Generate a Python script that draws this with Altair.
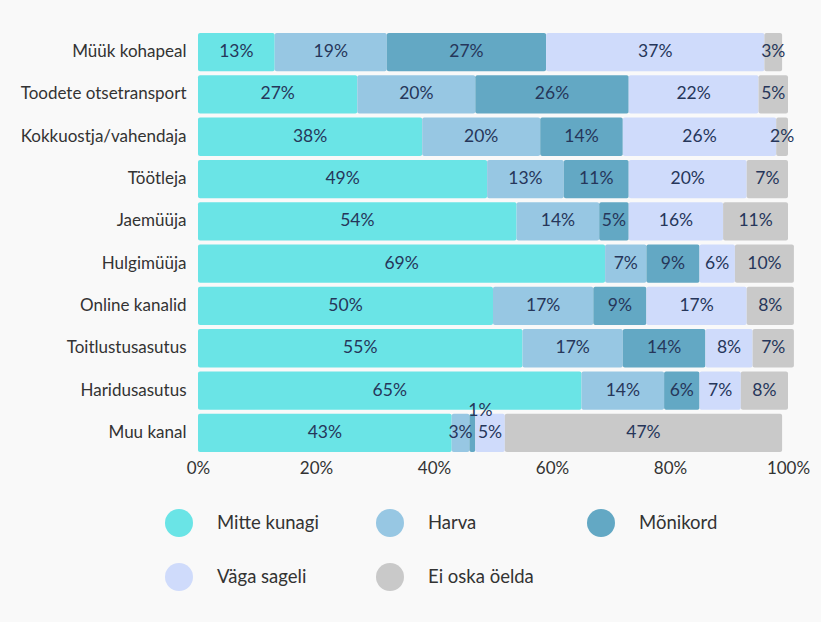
import altair as alt
import pandas as pd

categories = ["Müük kohapeal", "Toodete otsetransport", "Kokkuostja/vahendaja", "Töötleja",
              "Jaemüüja", "Hulgimüüja", "Online kanalid", "Toitlustusasutus",
              "Haridusasutus", "Muu kanal"]
series = ["Mitte kunagi", "Harva", "Mõnikord", "Väga sageli", "Ei oska öelda"]
mitte_kunagi = [13, 27, 38, 49, 54, 69, 50, 55, 65, 43]
harva = [19, 20, 20, 13, 14, 7, 17, 17, 14, 3]
monikord = [27, 26, 14, 11, 5, 9, 9, 14, 6, 1]
vaga_sageli = [37, 22, 26, 20, 16, 6, 17, 8, 7, 5]
ei_oska = [3, 5, 2, 7, 11, 10, 8, 7, 8, 47]
colors = ["#6ae4e6", "#97c7e3", "#63a8c4", "#cfdbfb", "#c9c9c9"]

rows = []
for s_i, (s, vals) in enumerate(zip(series, [mitte_kunagi, harva, monikord, vaga_sageli, ei_oska])):
    for c, v in zip(categories, vals):
        rows.append({"cat": c, "series": s, "order": s_i, "value": v})
df = pd.DataFrame(rows)

FONT = "Lato"
TXT = "#26365a"

base = alt.Chart(df).transform_stack(
    stack="value", groupby=["cat"], sort=[alt.SortField("order")], as_=["x0", "x1"]
).transform_calculate(
    mid="(datum.x0 + datum.x1) / 2", label="datum.value + '%'"
)

y_enc = alt.Y("cat:N", sort=categories, title=None,
              scale=alt.Scale(paddingInner=0.095, paddingOuter=0.047),
              axis=alt.Axis(domain=False, ticks=False, labelPadding=12, labelFontSize=17,
                            labelColor="#333333", labelFont=FONT, labelLimit=300))

bars = base.mark_bar(cornerRadius=2).encode(
    x=alt.X("x0:Q", title=None,
            scale=alt.Scale(domain=[0, 100], nice=False),
            axis=alt.Axis(values=[0, 20, 40, 60, 80, 100], labelExpr="datum.value + '%'",
                          domain=False, ticks=False, grid=False, labelPadding=6,
                          labelFontSize=17, labelColor="#333333", labelFont=FONT,
                          labelFlush=False)),
    x2="x1:Q",
    y=y_enc,
    color=alt.Color("series:N", scale=alt.Scale(domain=series, range=colors),
                    legend=alt.Legend(title=None, orient="none", legendX=-33, legendY=478,
                                      direction="horizontal",
                                      columns=3, symbolType="circle", symbolSize=784,
                                      symbolStrokeWidth=0, symbolOpacity=1,
                                      labelFontSize=18.5, labelFont=FONT, labelColor="#333333",
                                      labelOffset=24, rowPadding=26, columnPadding=53,
                                      gridAlign="all")),
)

labels_main = base.transform_filter("datum.value >= 2").mark_text(
    font=FONT, fontSize=17.5, color=TXT, baseline="middle"
).encode(x="mid:Q", y=alt.Y("cat:N", sort=categories), text="label:N")

labels_small = base.transform_filter("datum.value < 2").mark_text(
    font=FONT, fontSize=17.5, color=TXT, baseline="middle", dy=-22, dx=8
).encode(x="mid:Q", y=alt.Y("cat:N", sort=categories), text="label:N")

chart = alt.layer(bars, labels_main, labels_small).properties(
    width=590, height=423,
    autosize=alt.AutoSizeParams(type="none"),
    padding={"left": 198, "top": 31, "right": 33, "bottom": 168},
    background="#f9f9f9",
).configure_view(stroke=None)

chart.save("out.html", embed_options={"renderer": "svg", "actions": False})
